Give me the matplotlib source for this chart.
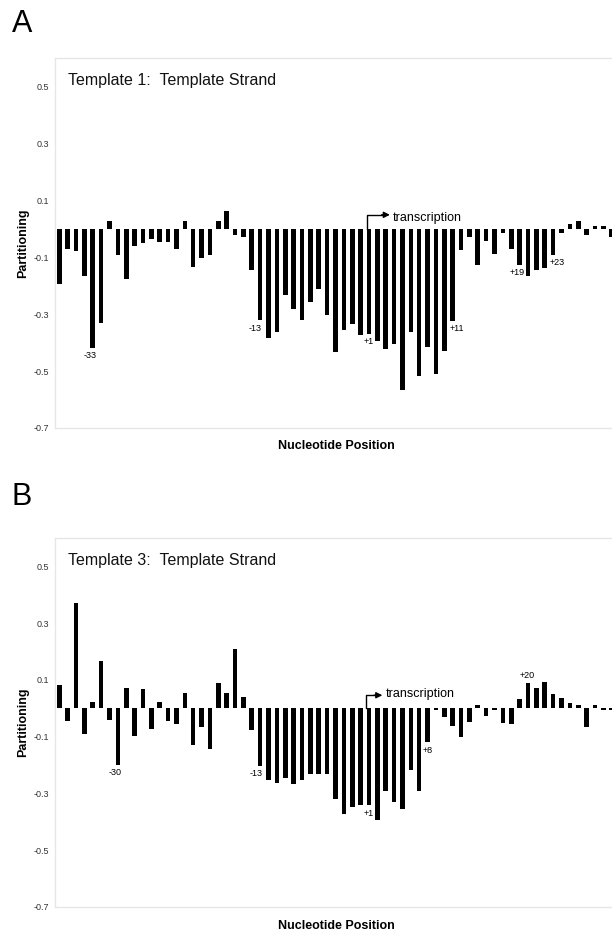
import numpy as np
import matplotlib
matplotlib.use("Agg")
import matplotlib.pyplot as plt

plt.rcParams["font.family"] = ["Liberation Sans", "DejaVu Sans"]

# ---------------------------------------------------------------------------
# Data
# ---------------------------------------------------------------------------
# nucleotide positions: -37 .. -1, +1 .. +30 (no zero)
positions = list(range(-37, 0)) + list(range(1, 31))

template1 = [
    -0.193, -0.070, -0.079, -0.167, -0.418, -0.330, 0.029, -0.093, -0.176, -0.060,
    -0.050, -0.035, -0.047, -0.047, -0.070, 0.029, -0.134, -0.103, -0.091, 0.029,
    0.064, -0.023, -0.029, -0.146, -0.321, -0.385, -0.362, -0.231, -0.282, -0.321,
    -0.259, -0.210, -0.303, -0.432, -0.356, -0.333, -0.373, -0.368, -0.393, -0.422,
    -0.405, -0.566, -0.362, -0.517, -0.417, -0.511, -0.430, -0.324, -0.076, -0.029,
    -0.126, -0.043, -0.088, -0.015, -0.070, -0.126, -0.166, -0.146, -0.138, -0.091,
    -0.014, 0.015, 0.029, -0.023, 0.009, 0.009, -0.029,
]

template3 = [
    0.081, -0.043, 0.370, -0.090, 0.021, 0.165, -0.040, -0.200, 0.072, -0.098,
    0.069, -0.072, 0.021, -0.046, -0.054, 0.054, -0.128, -0.066, -0.143, 0.089,
    0.054, 0.210, 0.040, -0.075, -0.202, -0.251, -0.263, -0.247, -0.265, -0.251,
    -0.230, -0.232, -0.233, -0.318, -0.372, -0.348, -0.339, -0.342, -0.392, -0.290,
    -0.329, -0.353, -0.216, -0.290, -0.120, -0.005, -0.030, -0.063, -0.102, -0.048,
    0.011, -0.028, -0.005, -0.052, -0.057, 0.034, 0.089, 0.072, 0.093, 0.050,
    0.036, 0.019, 0.011, -0.066, 0.013, -0.005, -0.005,
]

labels_a = [-33, -13, 1, 11, 19, 23]
labels_b = [-30, -13, 1, 8, 20]

yticks = [0.5, 0.3, 0.1, -0.1, -0.3, -0.5, -0.7]

# ---------------------------------------------------------------------------
# Layout (pixels)
# ---------------------------------------------------------------------------
W, H = 612, 932
fig = plt.figure(figsize=(W / 100, H / 100), dpi=100)
fig.patch.set_facecolor("white")

# small horizontal nudges for the position labels (bar units)
nudge_a = {-33: -0.35, -13: -0.6, 1: 0.0, 11: 0.45, 19: -0.3, 23: 0.5}
nudge_b = {-30: -0.3, -13: -0.45, 1: 0.0, 8: 0.0, 20: -0.15}


def px_axes(left, top, right, bottom):
    return fig.add_axes([left / W, 1 - bottom / H, (right - left) / W, (bottom - top) / H])


def fmt(v):
    return f"{v:.1f}".replace("\u2212", "-")


def draw_panel(ax, values, title, labels, nudge, arrow):
    x = np.arange(len(values))
    ax.bar(x, values, width=0.55, color="black", linewidth=0)

    ax.set_xlim(-0.51, 66.99)
    ax.set_ylim(-0.7, 0.6)
    ax.set_xticks([])
    ax.set_yticks(yticks)
    ax.set_yticklabels([fmt(t) for t in yticks], fontsize=6.5, color="#333333")
    ax.tick_params(axis="y", length=0, pad=4.5)

    for side in ["top", "left", "bottom"]:
        ax.spines[side].set_color("#e6e6e6")
        ax.spines[side].set_linewidth(1.0)
    ax.spines["right"].set_visible(False)

    ax.text(13 / 565, 1 - 23 / 370, title, transform=ax.transAxes,
            fontsize=11.5, ha="left", va="center", color="#111111")

    for p in labels:
        i = positions.index(p)
        v = values[i]
        txt = f"+{p}" if p > 0 else str(p)
        if v < 0:
            ax.text(i + nudge[p], v - 0.012, txt, fontsize=6.5, ha="center", va="top")
        else:
            ax.text(i + nudge[p], v + 0.012, txt, fontsize=6.5, ha="center", va="bottom")

    # transcription start arrow
    x0, x1, ya, xt, yt = arrow
    ax.plot([x0, x0, x1 - 0.8], [0, ya, ya], color="black", linewidth=1.0)
    ax.annotate("", xy=(x1, ya), xytext=(x1 - 1.0, ya),
                arrowprops=dict(arrowstyle="-|>", color="black", lw=1.0,
                                mutation_scale=9, shrinkA=0, shrinkB=0))
    ax.text(xt, yt, "transcription", fontsize=9, ha="left", va="baseline")


ax_a = px_axes(55, 58, 620, 428)
draw_panel(ax_a, template1, "Template 1:  Template Strand", labels_a, nudge_a,
           (36.8, 39.5, 0.049, 39.85, 0.026))

ax_b = px_axes(55, 538, 620, 907)
draw_panel(ax_b, template3, "Template 3:  Template Strand", labels_b, nudge_b,
           (36.6, 38.6, 0.046, 38.95, 0.040))

# panel letters and axis titles
for letter, yc, ylab_c, xlab_y in [("A", 24, 243, 446), ("B", 497, 722, 926)]:
    fig.text(12 / W, 1 - yc / H, letter, fontsize=22, ha="left", va="center")
    fig.text(23 / W, 1 - ylab_c / H, "Partitioning", fontsize=9, fontweight="bold",
             rotation=90, ha="center", va="center")
    fig.text(336 / W, 1 - xlab_y / H, "Nucleotide Position", fontsize=9,
             fontweight="bold", ha="center", va="center")

fig.savefig("out.png", dpi=100)
